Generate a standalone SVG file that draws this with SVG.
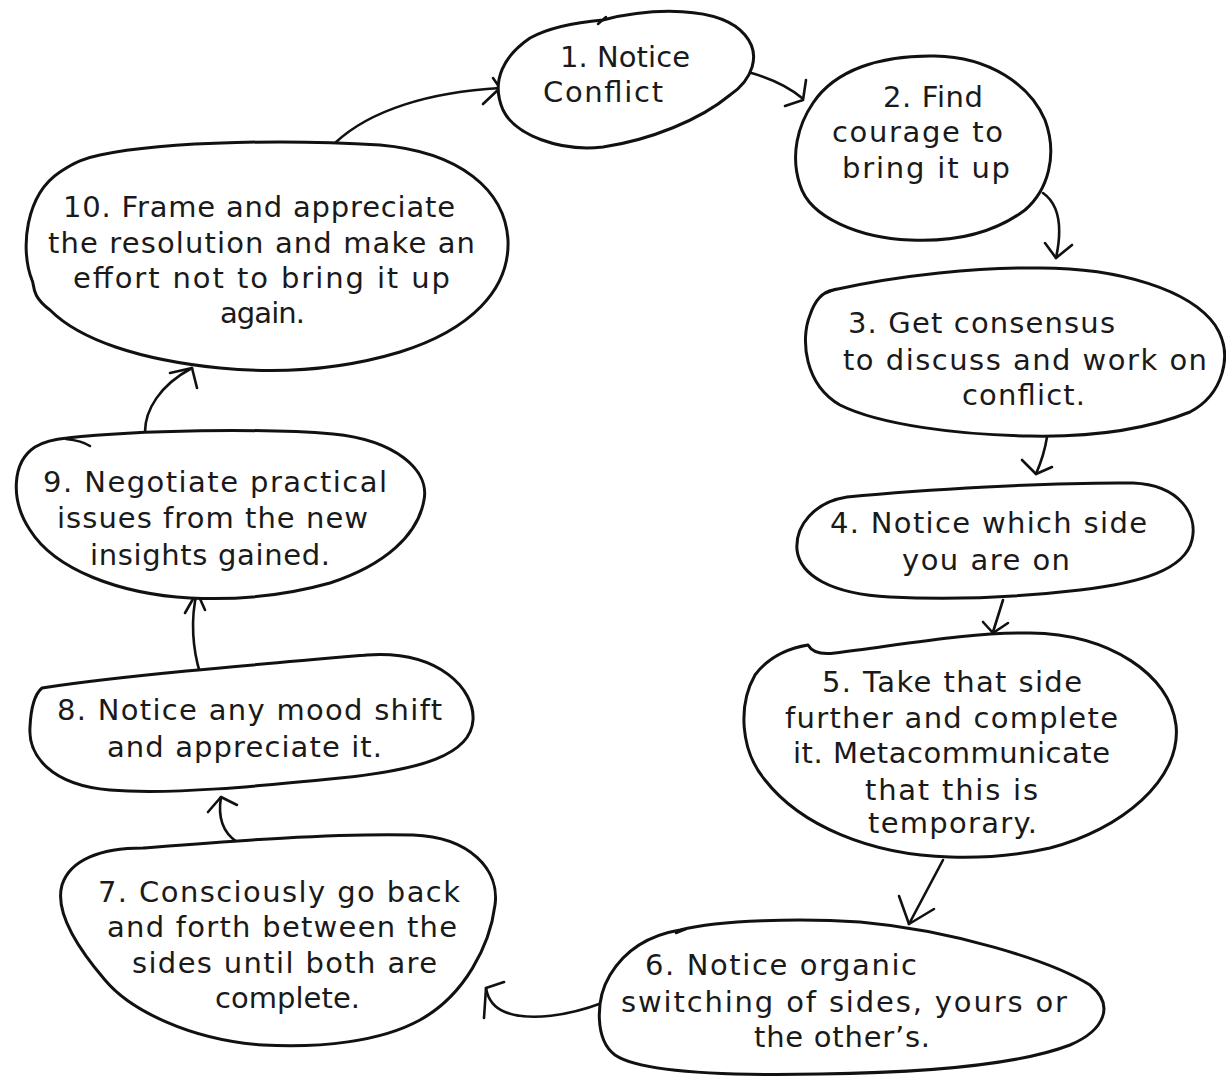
<svg xmlns="http://www.w3.org/2000/svg" width="1226" height="1076" viewBox="0 0 1226 1076">
<style>
.blob{fill:#fff;stroke:#111;stroke-width:3;stroke-linejoin:round;stroke-linecap:round}
.tick{fill:none;stroke:#111;stroke-width:2.5;stroke-linecap:round}
.edge{fill:none;stroke:#111;stroke-width:2.6;stroke-linecap:round;stroke-linejoin:round}
text{font-family:"DejaVu Sans","Liberation Sans",sans-serif;font-size:29px;fill:#1a1a1a}
</style>
<rect width="1226" height="1076" fill="#fff"/>
<g id="connectors">
<path class="edge" d="M335,143 C370,110 430,92 500,88"/><path class="edge" d="M483,104 L500,88 L493,78"/>
<path class="edge" d="M748,72 C770,78 790,88 802,98"/><path class="edge" d="M806,80 L803,100 L785,106"/>
<path class="edge" d="M1043,193 C1060,205 1062,230 1056,258"/><path class="edge" d="M1045,243 L1056,258 L1072,245"/>
<path class="edge" d="M1047,437 C1045,450 1042,460 1036,474"/><path class="edge" d="M1022,460 L1036,474 L1052,467"/>
<path class="edge" d="M1003,600 L993,632"/><path class="edge" d="M983,622 L993,633 L1008,623"/>
<path class="edge" d="M943,860 L909,924"/><path class="edge" d="M899,896 L909,924 L934,909"/>
<path class="edge" d="M602,1003 C570,1015 530,1022 505,1012 C495,1008 488,1000 486,988"/><path class="edge" d="M504,982 L486,988 L484,1018"/>
<path class="edge" d="M237,842 C222,832 218,815 221,797"/><path class="edge" d="M208,812 L221,797 L237,805"/>
<path class="edge" d="M200,673 C193,650 190,620 197,592"/><path class="edge" d="M185,613 L197,592 L205,610"/>
<path class="edge" d="M145,432 C145,410 160,385 192,368"/><path class="edge" d="M170,373 L192,368 L197,388"/>
</g>
<g id="node1">
<path class="blob" d="M603,20 C650,8 720,5 745,35 C762,55 752,80 730,95 C700,120 650,140 603,147 C560,152 515,135 503,110 C490,80 505,55 530,38 C550,27 580,22 603,20 Z"/>
<path class="tick" d="M598,24 L606,17"/>
<text x="560" y="67" textLength="130" lengthAdjust="spacing">1. Notice</text>
<text x="543" y="102" textLength="120" lengthAdjust="spacing">Conflict</text>
</g>
<g id="node2">
<path class="blob" d="M813,103 C835,70 880,55 935,56 C990,57 1030,85 1045,120 C1058,155 1048,190 1025,210 C990,236 950,242 910,240 C860,238 810,218 800,185 C790,155 798,125 813,103 Z"/>
<text x="883" y="107" textLength="100" lengthAdjust="spacing">2. Find</text>
<text x="832" y="142" textLength="171" lengthAdjust="spacing">courage to</text>
<text x="842" y="178" textLength="168" lengthAdjust="spacing">bring it up</text>
</g>
<g id="node3">
<path class="blob" d="M833,290 C900,275 980,267 1040,268 C1120,268 1190,290 1215,325 C1235,355 1222,395 1190,412 C1140,432 1080,437 1030,436 C960,435 880,425 840,405 C805,385 800,340 810,315 C815,300 822,292 833,290 Z"/>
<path class="tick" d="M826,293 L836,289"/>
<text x="848" y="333" textLength="267" lengthAdjust="spacing">3. Get consensus</text>
<text x="843" y="370" textLength="364" lengthAdjust="spacing">to discuss and work on</text>
<text x="962" y="405" textLength="123" lengthAdjust="spacing">conflict.</text>
</g>
<g id="node4">
<path class="blob" d="M847,497 C920,490 1050,482 1133,483 C1180,485 1198,515 1192,540 C1185,570 1140,583 1080,590 C1020,597 950,600 890,597 C830,594 800,575 797,550 C795,525 815,502 847,497 Z"/>
<text x="830" y="533" textLength="317" lengthAdjust="spacing">4. Notice which side</text>
<text x="902" y="570" textLength="168" lengthAdjust="spacing">you are on</text>
</g>
<g id="node5">
<path class="blob" d="M808,645 C812,652 820,655 835,653 C900,645 970,632 1030,633 C1110,634 1170,675 1176,725 C1182,780 1120,830 1050,848 C1010,857 980,858 950,857 C870,855 800,825 765,780 C740,750 738,705 755,675 C770,655 790,648 808,645 Z"/>
<text x="822" y="692" textLength="260" lengthAdjust="spacing">5. Take that side</text>
<text x="785" y="728" textLength="333" lengthAdjust="spacing">further and complete</text>
<text x="793" y="763" textLength="317" lengthAdjust="spacing">it. Metacommunicate</text>
<text x="865" y="800" textLength="173" lengthAdjust="spacing">that this is</text>
<text x="868" y="833" textLength="169" lengthAdjust="spacing">temporary.</text>
</g>
<g id="node6">
<path class="blob" d="M680,930 C720,920 800,918 860,922 C950,930 1050,960 1090,985 C1115,1005 1105,1030 1070,1045 C1010,1068 900,1073 820,1074 C720,1076 640,1072 615,1055 C595,1040 595,1000 610,975 C625,950 650,935 680,930 Z"/>
<path class="tick" d="M676,933 L686,929"/>
<text x="645" y="975" textLength="272" lengthAdjust="spacing">6. Notice organic</text>
<text x="621" y="1012" textLength="446" lengthAdjust="spacing">switching of sides, yours or</text>
<text x="754" y="1047" textLength="176" lengthAdjust="spacing">the other’s.</text>
</g>
<g id="node7">
<path class="blob" d="M143,848 C220,842 330,833 413,835 C470,837 500,870 495,905 C490,945 465,995 420,1020 C380,1042 320,1048 263,1045 C190,1040 130,1010 105,980 C75,945 55,910 62,885 C70,860 100,848 143,848 Z"/>
<text x="98" y="902" textLength="362" lengthAdjust="spacing">7. Consciously go back</text>
<text x="107" y="937" textLength="350" lengthAdjust="spacing">and forth between the</text>
<text x="132" y="973" textLength="305" lengthAdjust="spacing">sides until both are</text>
<text x="215" y="1008" textLength="145" lengthAdjust="spacing">complete.</text>
</g>
<g id="node8">
<path class="blob" d="M42,688 C120,676 250,665 367,655 C440,650 475,690 473,720 C471,755 420,770 340,778 C260,786 170,795 110,790 C50,785 28,755 30,727 C31,705 36,693 42,688 Z"/>
<text x="57" y="720" textLength="385" lengthAdjust="spacing">8. Notice any mood shift</text>
<text x="107" y="757" textLength="275" lengthAdjust="spacing">and appreciate it.</text>
</g>
<g id="node9">
<path class="blob" d="M67,438 C140,430 260,428 333,434 C395,440 430,470 424,500 C418,535 385,565 330,583 C280,597 230,600 190,598 C120,594 55,570 30,530 C10,500 12,462 35,447 C45,441 55,439 67,438 Z"/>
<path class="tick" d="M66,439 C75,440 84,442 90,446"/>
<text x="43" y="492" textLength="344" lengthAdjust="spacing">9. Negotiate practical</text>
<text x="57" y="528" textLength="311" lengthAdjust="spacing">issues from the new</text>
<text x="90" y="565" textLength="240" lengthAdjust="spacing">insights gained.</text>
</g>
<g id="node10">
<path class="blob" d="M100,155 C170,140 300,140 380,145 C460,152 505,190 508,240 C510,290 470,330 400,352 C340,370 280,374 220,368 C140,360 80,340 50,310 C30,295 35,285 32,280 C20,250 25,195 60,172 C75,162 85,158 100,155 Z"/>
<text x="63" y="217" textLength="392" lengthAdjust="spacing">10. Frame and appreciate</text>
<text x="48" y="253" textLength="427" lengthAdjust="spacing">the resolution and make an</text>
<text x="73" y="288" textLength="377" lengthAdjust="spacing">effort not to bring it up</text>
<text x="220" y="323" textLength="85" lengthAdjust="spacing">again.</text>
</g>
</svg>
